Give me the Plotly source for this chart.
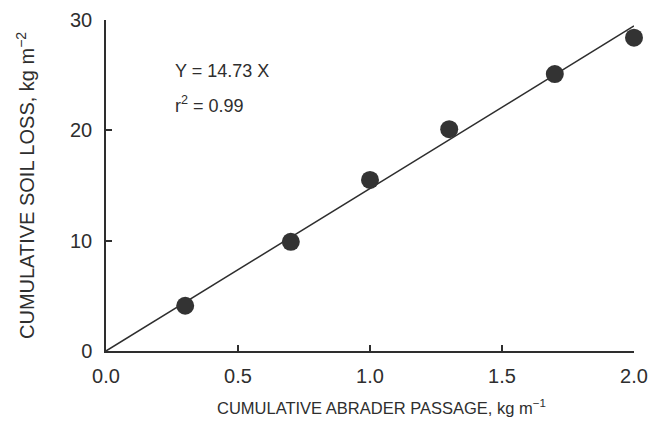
import plotly.graph_objects as go

# Data
abrader_passage = [0.3, 0.7, 1.0, 1.3, 1.7, 2.0]
soil_loss = [4.1, 9.9, 15.5, 20.1, 25.1, 28.4]
fit_x = [0.0, 2.0]
slope = 14.73
fit_y = [slope * v for v in fit_x]
x_ticks = [0.0, 0.5, 1.0, 1.5, 2.0]
x_ticklabels = ["0.0", "0.5", "1.0", "1.5", "2.0"]
y_ticks = [0, 10, 20, 30]

ink = "#2e2e2e"
font_family = "Liberation Sans, Arial, sans-serif"

fig = go.Figure()
fig.add_trace(go.Scatter(x=fit_x, y=fit_y, mode="lines",
                         line=dict(color=ink, width=1.5),
                         showlegend=False, cliponaxis=False, hoverinfo="skip"))
fig.add_trace(go.Scatter(x=abrader_passage, y=soil_loss, mode="markers",
                         marker=dict(color="#333333", size=18, line=dict(width=0)),
                         showlegend=False, cliponaxis=False))

# regression text
fig.add_annotation(x=0.254, y=25.4, xref="x", yref="y", showarrow=False,
                   xanchor="left", yanchor="middle",
                   text="Y = 14.73 X",
                   font=dict(family=font_family, size=18, color=ink))
fig.add_annotation(x=0.254, y=22.3, xref="x", yref="y", showarrow=False,
                   xanchor="left", yanchor="middle",
                   text="r<sup>2</sup> = 0.99",
                   font=dict(family=font_family, size=18, color=ink))

# axis titles (pixel positions converted below)
fig.add_annotation(x=381, y=407, xref="paper", yref="paper", showarrow=False,
                   xanchor="center", yanchor="middle",
                   text="CUMULATIVE ABRADER PASSAGE, kg m<sup>−1</sup>",
                   font=dict(family=font_family, size=16.5, color=ink))
fig.add_annotation(x=25, y=186, xref="paper", yref="paper", showarrow=False,
                   xanchor="center", yanchor="middle",
                   textangle=-90,
                   text="CUMULATIVE SOIL LOSS, kg m<sup>−2</sup>",
                   font=dict(family=font_family, size=20, color=ink))

L, R, T, B = 106, 16, 20, 80
W, H = 650, 431
pw, ph = W - L - R, H - T - B
for ann in fig.layout.annotations[2:]:
    ann.x = (ann.x - L) / pw
    ann.y = (H - B - ann.y) / ph

fig.update_layout(
    width=W, height=H,
    margin=dict(l=L, r=R, t=T, b=B),
    paper_bgcolor="white", plot_bgcolor="white",
    font=dict(family=font_family, color=ink),
    xaxis=dict(range=[0, 2.0], tickvals=x_ticks, ticktext=x_ticklabels,
               ticks="inside", ticklen=6, tickwidth=1.5, tickcolor=ink,
               showline=True, linecolor=ink, linewidth=1.5,
               showgrid=False, zeroline=False, automargin=False,
               ticklabelstandoff=6,
               tickfont=dict(size=20, color=ink)),
    yaxis=dict(range=[0, 30], tickvals=y_ticks,
               ticks="inside", ticklen=6, tickwidth=1.5, tickcolor=ink,
               showline=True, linecolor=ink, linewidth=1.5,
               showgrid=False, zeroline=False, automargin=False,
               ticklabelstandoff=8,
               tickfont=dict(size=20, color=ink)),
)

fig.write_html("out.html", config={"displayModeBar": False},
               post_script="document.body.style.margin='0';")
